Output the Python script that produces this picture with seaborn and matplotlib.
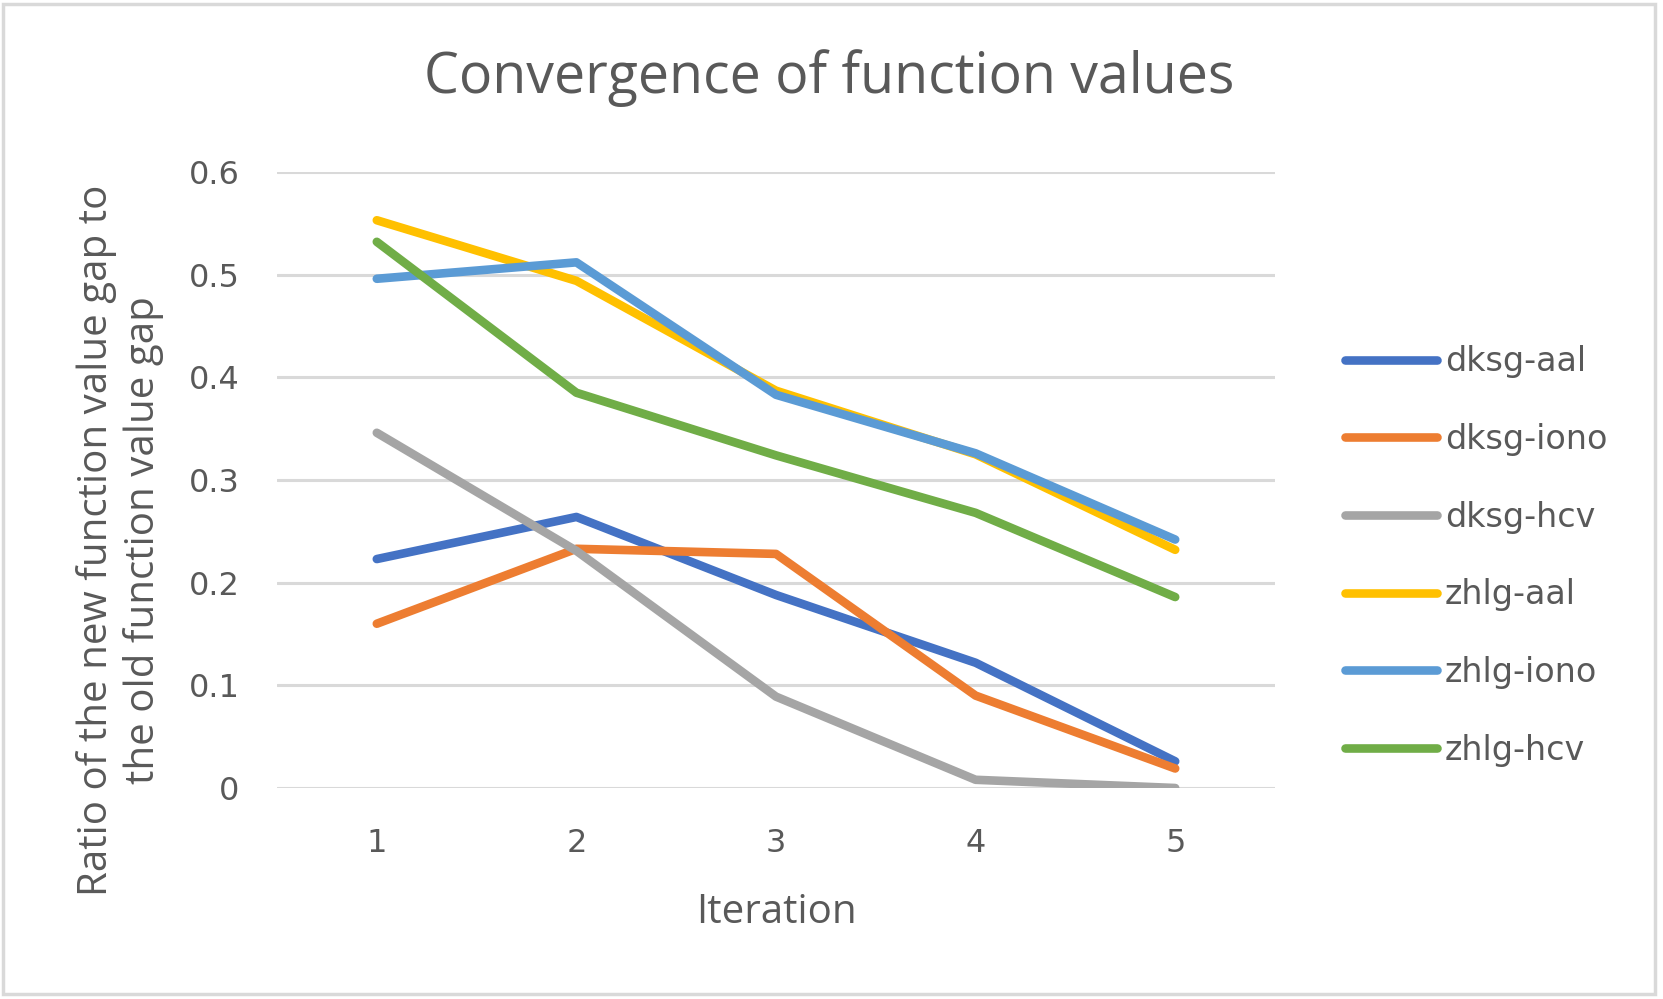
import matplotlib
matplotlib.use("Agg")
import matplotlib.pyplot as plt
import seaborn as sns
import pandas as pd
from matplotlib.patches import Rectangle
from matplotlib.font_manager import FontProperties

iterations = [1, 2, 3, 4, 5]
series_names = ["dksg-aal", "dksg-iono", "dksg-hcv", "zhlg-aal", "zhlg-iono", "zhlg-hcv"]
dksg_aal = [0.223, 0.264, 0.188, 0.122, 0.026]
dksg_iono = [0.160, 0.233, 0.228, 0.090, 0.019]
dksg_hcv = [0.346, 0.231, 0.089, 0.008, 0.000]
zhlg_aal = [0.553, 0.494, 0.387, 0.325, 0.232]
zhlg_iono = [0.496, 0.512, 0.383, 0.326, 0.242]
zhlg_hcv = [0.532, 0.385, 0.324, 0.268, 0.186]
y_ticks = [0, 0.1, 0.2, 0.3, 0.4, 0.5, 0.6]
y_tick_labels = ["0", "0.1", "0.2", "0.3", "0.4", "0.5", "0.6"]
colors = ["#4472C4", "#ED7D31", "#A5A5A5", "#FFC000", "#5B9BD5", "#70AD47"]

values = [dksg_aal, dksg_iono, dksg_hcv, zhlg_aal, zhlg_iono, zhlg_hcv]
rows = []
for name, vals in zip(series_names, values):
    for it, v in zip(iterations, vals):
        rows.append({"Iteration": it, "value": v, "series": name})
df = pd.DataFrame(rows)

sns.set_theme(style="white")
plt.rcParams['font.family'] = ['Open Sans', 'DejaVu Sans']

text_color = "#595959"
tick_fp = FontProperties(family="DejaVu Sans", size=23)
leg_fp = FontProperties(family="DejaVu Sans", size=24)

fig = plt.figure(figsize=(16.63, 9.99), dpi=100)
ax = fig.add_axes([277/1663, 1-788/999, (1275-277)/1663, (788-172)/999])

sns.lineplot(data=df, x="Iteration", y="value", hue="series", hue_order=series_names,
             palette=colors, linewidth=6.2, ax=ax, legend=True, sort=False)
for ln in ax.get_lines():
    ln.set_solid_capstyle("round")
    ln.set_solid_joinstyle("round")

ax.set_xlim(0.5, 5.5)
ax.set_ylim(0, 0.6)
ax.set_yticks(y_ticks)
ax.set_yticklabels(y_tick_labels, fontproperties=tick_fp, color=text_color)
ax.set_xticks(iterations)
ax.set_xticklabels([str(i) for i in iterations], fontproperties=tick_fp, color=text_color)
ax.grid(axis="y", color="#D9D9D9", linewidth=2.2)
ax.set_axisbelow(True)
for s in ax.spines.values():
    s.set_visible(False)
ax.tick_params(axis="both", length=0)
ax.tick_params(axis="y", pad=27)
ax.tick_params(axis="x", pad=29)
ax.set_xlabel("")
ax.set_ylabel("")

handles, labels = ax.get_legend_handles_labels()
ax.get_legend().remove()
leg = fig.legend(handles, labels, loc="center left", bbox_to_anchor=(1315/1663, 1-556/999),
                 frameon=False, handlelength=2.75, handletextpad=0.25,
                 labelspacing=1.34, prop=leg_fp)
for t in leg.get_texts():
    t.set_color(text_color)
for lh in leg.get_lines():
    lh.set_linewidth(6.2)
    lh.set_solid_capstyle("round")

fig.text(829/1663, 1-78/999, "Convergence of function values", ha="center", va="center",
         fontsize=40, color=text_color, family=["Open Sans", "DejaVu Sans"])
fig.text(776/1663, 1-913/999, "Iteration", ha="center", va="center",
         fontsize=29, color=text_color, family=["Open Sans", "DejaVu Sans"])
fig.text(120/1663, 1-540/999, "Ratio of the new function value gap to\nthe old function value gap",
         ha="center", va="center", rotation=90, fontsize=29, color=text_color,
         linespacing=1.22, family=["Open Sans", "DejaVu Sans"])

fig.patches.append(Rectangle((3/1663, 1-994/999), 1652/1663, 990/999, transform=fig.transFigure,
                             fill=False, edgecolor="#D9D9D9", linewidth=2.5))

fig.savefig("out.png", dpi=100, facecolor="white")
